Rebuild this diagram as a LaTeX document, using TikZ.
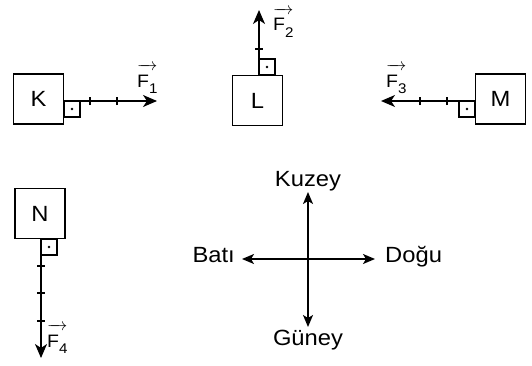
\documentclass[tikz,border=0pt]{standalone}
\usepackage{fontspec}
\setmainfont{Liberation Sans}[FakeStretch=1.08]
\usetikzlibrary{arrows.meta,positioning}

\tikzset{
  body/.style={draw=black,line width=1.4pt,minimum size=50pt,inner sep=0pt,font=\fontsize{22}{26}\selectfont},
  force/.style={line width=1.5pt,-{Stealth[length=14pt,width=12pt,inset=4pt]}},
  perp/.style={draw=black,line width=1.2pt},
  tick/.style={line width=1.2pt},
  flabel/.style={inner sep=0pt,anchor=base west,font=\fontsize{18}{21}\selectfont},
  compass/.style={line width=1.5pt,{Stealth[length=12pt,width=10pt,inset=3pt]}-{Stealth[length=12pt,width=10pt,inset=3pt]}},
  dir/.style={inner sep=0pt,font=\fontsize{22}{26}\selectfont}
}
\newcommand\vecF[1]{$\overrightarrow{\hbox{\rule{0pt}{18pt}F\raisebox{-6pt}{\fontsize{14}{14}\selectfont #1}}}$}

\begin{document}
\begin{tikzpicture}[x=1pt,y=1pt]
    \useasboundingbox (0,0) rectangle (532,365);
    % bodies
    \node[body] (K) at ( 38.5,266.0) {K};
    \node[body] (L) at (257.5,264.5) {L};
    \node[body] (M) at (500.5,266.0) {M};
    \node[body] (N) at ( 40.0,151.5) {N};
    % where the forces start and end
    \coordinate (baseK) at ( 64,264);  \coordinate (tipF1) at (157,264);
    \coordinate (baseL) at (259,290);  \coordinate (tipF2) at (259,355);
    \coordinate (baseM) at (475,264);  \coordinate (tipF3) at (381,264);
    \coordinate (baseN) at ( 41,126);  \coordinate (tipF4) at ( 41,  7);
    % right angle marks
    \draw[perp] (baseK) rectangle ++( 16,-16);
    \draw[perp] (baseL) rectangle ++( 16, 16);
    \draw[perp] (baseM) rectangle ++(-16,-16);
    \draw[perp] (baseN) rectangle ++( 16,-16);
    \fill ( 72,256) circle (1.4);
    \fill (267,298) circle (1.4);
    \fill (467,256) circle (1.4);
    \fill ( 49,118) circle (1.4);
    % unit ticks
    \foreach \x in {90,117}   \draw[tick] (\x,260) -- (\x,268);
    \foreach \x in {420,447}  \draw[tick] (\x,260) -- (\x,268);
    \foreach \y in {316}      \draw[tick] (255,\y) -- (263,\y);
    \foreach \y in {44,72,99} \draw[tick] (37,\y) -- (45,\y);
    % forces
    \draw[force] (baseK) -- (tipF1);
    \draw[force] (baseL) -- (tipF2);
    \draw[force] (baseM) -- (tipF3);
    \draw[force] (baseN) -- (tipF4);
    \node[flabel] (F1) at (137,278) {\vecF{1}};
    \node[flabel] (F2) at (273,334) {\vecF{2}};
    \node[flabel] (F3) at (386,278) {\vecF{3}};
    \node[flabel] (F4) at ( 47, 18) {\vecF{4}};
    % directions
    \coordinate (cN) at (308,173);
    \coordinate (cS) at (308, 38);
    \coordinate (cW) at (242,106);
    \coordinate (cE) at (375,106);
    \draw[compass] (cW) -- (cE);
    \draw[compass] (cS) -- (cN);
    \node[dir,above=1pt of cN]                 (kuzey) {Kuzey};
    \node[dir,below=3pt of cS]                 (guney) {Güney};
    \node[dir,anchor=base east] at (235,103)   (bati)  {Batı};
    \node[dir,anchor=base west] at (385,103)   (dogu)  {Doğu};
  \end{tikzpicture}
\end{document}
